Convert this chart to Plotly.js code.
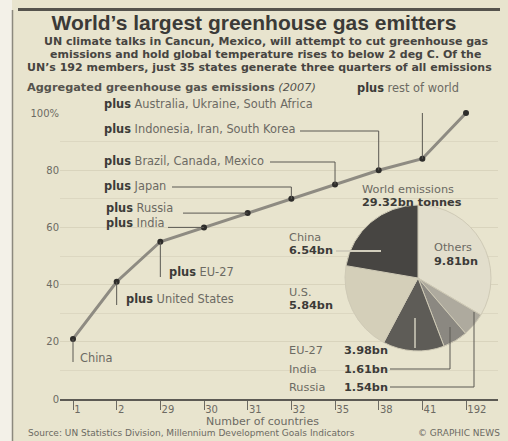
<!DOCTYPE html>
<html>
<head>
<meta charset="utf-8">
<script src="https://cdn.plot.ly/plotly-3.0.1.min.js"></script>
<style>
html,body{margin:0;padding:0;background:#f3f1e8;}
#chart{width:508px;height:441px;}
</style>
</head>
<body>
<div id="chart"></div>
<script>
// ---- data ----
const countryCounts = ['1','2','29','30','31','32','35','38','41','192'];
const cumulativeShare = [21, 41, 55, 60, 65, 70, 75, 80, 84, 100];
const groupPlus = ['', 'plus', 'plus', 'plus', 'plus', 'plus', 'plus', 'plus', 'plus', 'plus'];
const groupNames = ['China', 'United States', 'EU-27', 'India', 'Russia', 'Japan',
  'Brazil, Canada, Mexico', 'Indonesia, Iran, South Korea', 'Australia, Ukraine, South Africa', 'rest of world'];
const yTickVals = [0, 20, 40, 60, 80, 100];
const yTickText = ['0', '20', '40', '60', '80', '100%'];
const pieLabels = ['China', 'U.S.', 'EU-27', 'India', 'Russia', 'Others'];
const pieValues = [6.54, 5.84, 3.98, 1.61, 1.54, 9.81];
const pieColors = ['#474542', '#d4cfb9', '#5e5c57', '#8b8881', '#aeaa9e', '#e2decc'];
const worldTotal = 29.32;

// ---- layout geometry ----
const W = 508, H = 441;
const M = {l: 60, r: 10, t: 113, b: 42};
const PW = W - M.l - M.r, PH = H - M.t - M.b;
const x0px = 73, stepPx = 43.67;
const xRange = [(M.l - x0px) / stepPx, (W - M.r - x0px) / stepPx];
const idx = countryCounts.map((_, i) => i);
const PX = p => (p - M.l) / PW;          // pixel -> paper x
const PY = p => (H - M.b - p) / PH;      // pixel -> paper y
const DX = p => xRange[0] + (p - M.l) / PW * (xRange[1] - xRange[0]); // pixel -> data x
const DY = p => (H - M.b - p) / PH * 100; // pixel -> data y

const dark = '#3c3b38', mid = '#6c6a63', lineC = '#5a5852';
const ff = 'DejaVu Sans, Verdana, sans-serif';
const fft = 'Liberation Sans, Arial, sans-serif';

const annotations = [];
const shapes = [];
function txt(text, xp, yp, opts) {
  annotations.push(Object.assign({
    text: text, xref: 'paper', yref: 'paper', x: PX(xp), y: PY(yp),
    xanchor: 'left', yanchor: 'middle', showarrow: false,
    font: {family: ff, size: 11, color: mid}
  }, opts || {}));
}
function path(pts, color, width) {
  let d = pts.map((p, i) => (i ? 'L' : 'M') + p[0] + ',' + p[1]).join(' ');
  shapes.push({type: 'path', xref: 'x', yref: 'y', path: d, line: {color: color || lineC, width: width || 1}});
}
function label(i) {
  return (groupPlus[i] ? '<b><span style="color:' + dark + '">' + groupPlus[i] + '</span></b> ' : '') + groupNames[i];
}

// Group labels: text-left px, text-y px, leader style
const lab = [
  {x: 78, y: 358, kind: 'down', end: 362},
  {x: 124, y: 299, kind: 'down', end: 305},
  {x: 167, y: 272, kind: 'down', end: 277},
  {x: 104, y: 223, kind: 'h', from: 168},
  {x: 104, y: 208, kind: 'h', from: 183},
  {x: 102, y: 186, kind: 'elbow', from: 172, ly: 187},
  {x: 102, y: 161, kind: 'elbow', from: 270, ly: 162},
  {x: 102, y: 129, kind: 'elbow', from: 300, ly: 131},
  {x: 102, y: 104, kind: 'elbow', from: 316, ly: 108},
  {x: 408, y: 88, kind: 'up', end: 95, center: true}
];
lab.forEach((L, i) => {
  txt(label(i), L.x, L.y, Object.assign({font: {family: ff, size: 11.4, color: mid}}, L.center ? {xanchor: 'center'} : {}));
  const xi = idx[i], yi = cumulativeShare[i];
  if (L.kind === 'down' || L.kind === 'up') path([[xi, yi], [xi, DY(L.end)]]);
  else if (L.kind === 'h') path([[DX(L.from), yi], [xi, yi]]);
  else path([[DX(L.from), DY(L.ly)], [xi, DY(L.ly)], [xi, yi]]);
});

// Titles & texts
const subFont = {family: ff, size: 11, color: '#474541'};
txt('<b>UN climate talks in Cancun, Mexico, will attempt to cut greenhouse gas</b>', 266, 41, {xanchor: 'center', font: subFont});
txt('<b>emissions and hold global temperature rises to below 2 deg C. Of the</b>', 265, 54, {xanchor: 'center', font: subFont});
txt('<b>UN\u2019s 192 members, just 35 states generate three quarters of all emissions</b>', 259, 67, {xanchor: 'center', font: subFont});
txt('<b>Aggregated greenhouse gas emissions</b> <i>(2007)</i>', 25, 88, {font: {family: ff, size: 11.3, color: '#55534d'}});
txt('Number of countries', 262, 421, {xanchor: 'center', font: {family: ff, size: 11, color: mid}});
txt('Source: UN Statistics Division, Millennium Development Goals Indicators', 26, 433, {font: {family: ff, size: 9, color: mid}});
txt('\u00a9 GRAPHIC NEWS', 502, 433, {xanchor: 'right', font: {family: ff, size: 9, color: mid}});

// Pie labels
const fmt = v => v.toFixed(2) + 'bn';
const pf = {family: ff, size: 11.3, color: mid}, pfb = {family: ff, size: 11.3, color: dark};
txt('World emissions', 360, 189, {font: pf});
txt('<b>' + worldTotal.toFixed(2) + 'bn tonnes</b>', 360, 202, {font: pfb});
const pieLab = [
  {x: 287, y: 237, two: true},
  {x: 287, y: 292, two: true},
  {x: 287, y: 350},
  {x: 287, y: 369},
  {x: 287, y: 387},
  {x: 432, y: 248, two: true}
];
pieLab.forEach((P, i) => {
  txt(pieLabels[i], P.x, P.y, {font: pf});
  if (P.two) txt('<b>' + fmt(pieValues[i]) + '</b>', P.x, P.y + 13, {font: pfb});
  else txt('<b>' + fmt(pieValues[i]) + '</b>', 342, P.y, {font: pfb});
});
// pie leader lines (paper coords)
function ppath(pts, color, width) {
  let d = pts.map((p, i) => (i ? 'L' : 'M') + PX(p[0]) + ',' + PY(p[1])).join(' ');
  shapes.push({type: 'path', xref: 'paper', yref: 'paper', path: d, line: {color: color, width: width}, layer: 'above'});
}
ppath([[336, 251], [381, 251]], '#d2cebd', 2);
ppath([[415, 318], [415, 348]], '#d2cebd', 1.5);
ppath([[390, 369], [450, 369], [450, 327]], lineC, 1);
ppath([[390, 387], [474, 387], [474, 312]], lineC, 1);

// frame: top bar & left rule
shapes.push({type: 'rect', xref: 'paper', yref: 'paper', x0: PX(18), x1: PX(500), y0: PY(8), y1: PY(11), fillcolor: '#55534d', line: {width: 0}, layer: 'below'});
shapes.push({type: 'rect', xref: 'paper', yref: 'paper', x0: PX(0), x1: PX(12), y0: PY(441), y1: PY(0), fillcolor: '#f3f1e8', line: {width: 0}, layer: 'below'});
shapes.push({type: 'line', xref: 'paper', yref: 'paper', x0: PX(12.5), x1: PX(12.5), y0: PY(441), y1: PY(10), line: {color: '#8c897e', width: 1.5}, layer: 'below'});

// pie drawn clockwise in reverse order so China runs counterclockwise from 12 o'clock
const rev = a => a.slice().reverse();
const traces = [
  {
    type: 'scatter', mode: 'lines+markers', x: idx, y: cumulativeShare,
    line: {color: '#8e8b82', width: 3},
    marker: {color: '#2e2d2b', size: 6},
    cliponaxis: false, hoverinfo: 'skip', showlegend: false
  },
  {
    type: 'pie', labels: rev(pieLabels), values: rev(pieValues), sort: false,
    direction: 'clockwise', rotation: 0, textinfo: 'none', hoverinfo: 'label+value',
    marker: {colors: rev(pieColors), line: {color: '#cfcab6', width: 1}},
    domain: {x: [PX(345), PX(491)], y: [PY(351), PY(205)]},
    showlegend: false
  }
];

const layout = {
  width: W, height: H,
  margin: M,
  paper_bgcolor: '#e8e4ce', plot_bgcolor: 'rgba(0,0,0,0)',
  title: {
    text: '<b>World\u2019s largest greenhouse gas emitters</b>',
    x: 0.5, xref: 'container', xanchor: 'center',
    y: 1 - 23 / H, yref: 'container', yanchor: 'middle',
    font: {family: fft, size: 21, color: '#3b3a37'}
  },
  xaxis: {
    range: xRange, tickmode: 'array', tickvals: idx, ticktext: countryCounts,
    showgrid: false, zeroline: false, showline: true, linecolor: '#5c5a54', linewidth: 1.5,
    ticks: 'outside', ticklen: 9, tickcolor: '#6c6a63', tickwidth: 1,
    ticklabelposition: 'outside right',
    tickfont: {family: ff, size: 10, color: mid}, fixedrange: true
  },
  yaxis: {
    range: [0, 100], tickmode: 'array', tickvals: yTickVals, ticktext: yTickText,
    showgrid: true, gridcolor: '#d9d4bd', gridwidth: 1, zeroline: false, showline: false,
    minor: {dtick: 10, showgrid: true, gridcolor: '#dcd7c1'},
    ticks: '', tickfont: {family: ff, size: 10, color: mid}, fixedrange: true
  },
  annotations: annotations,
  shapes: shapes,
  showlegend: false
};

Plotly.newPlot('chart', traces, layout, {displayModeBar: false, staticPlot: true});
</script>
</body>
</html>
